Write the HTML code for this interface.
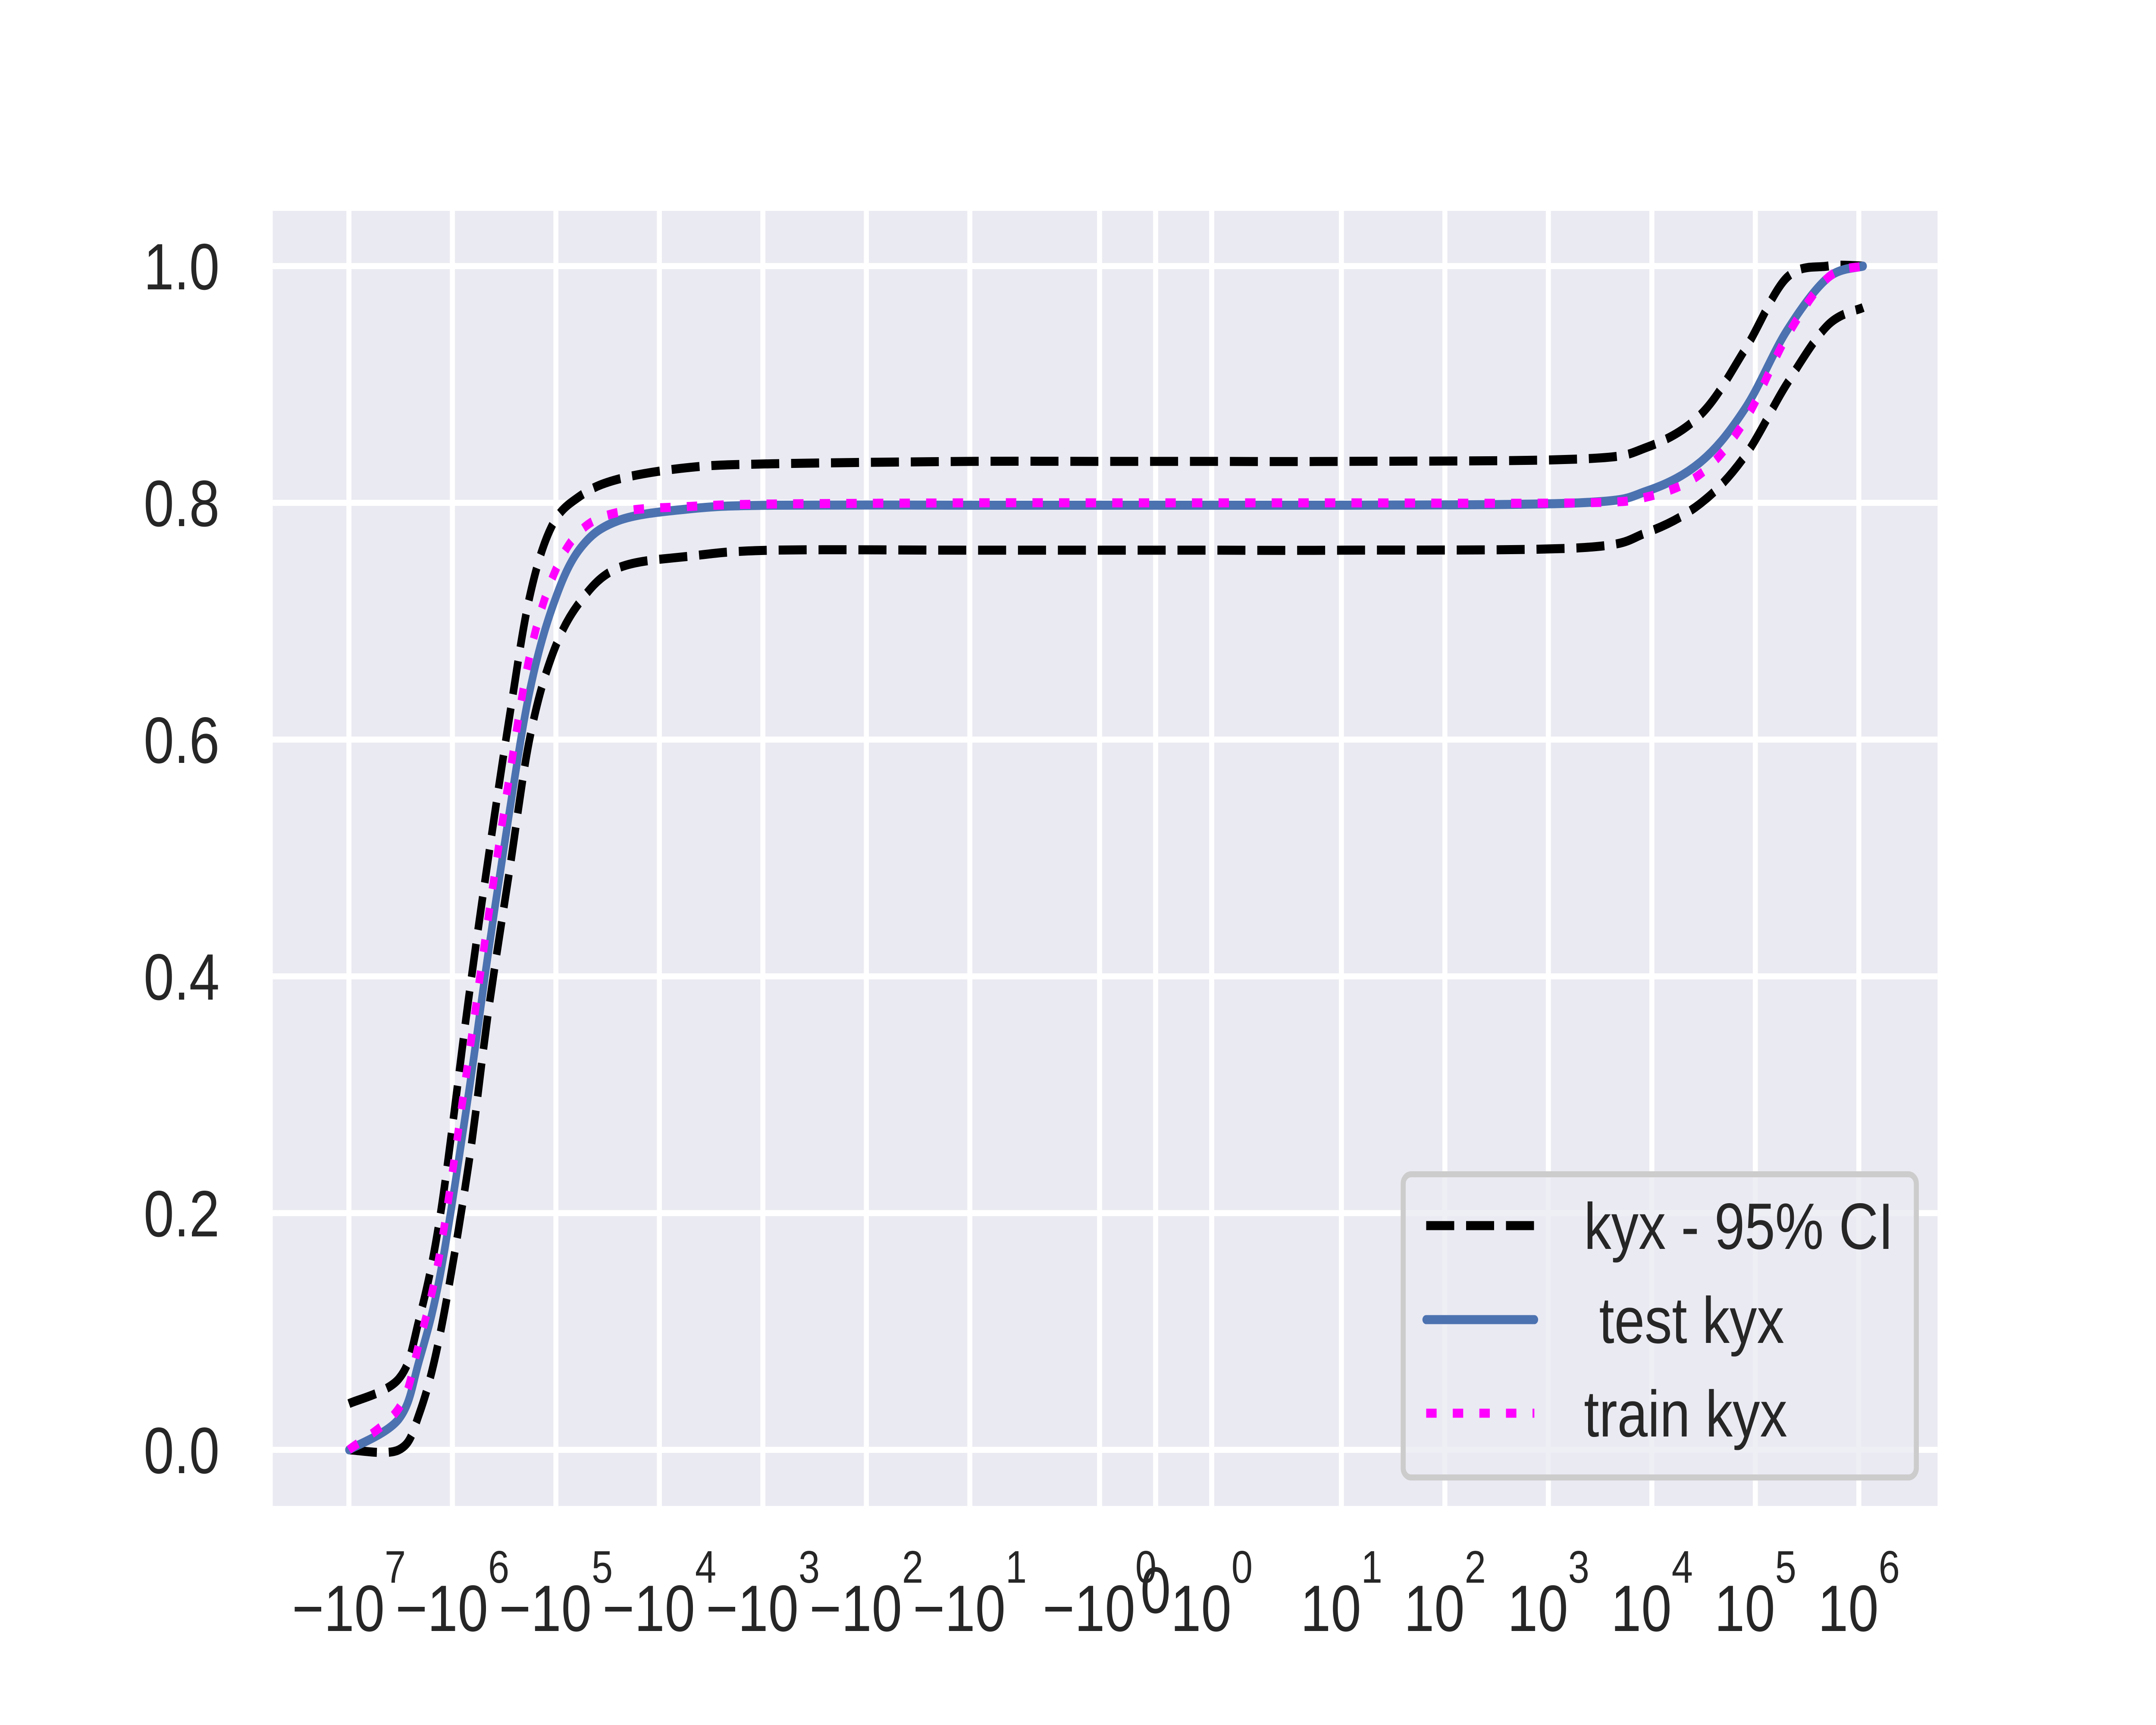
<!DOCTYPE html>
<html><head><meta charset="utf-8"><style>
html,body{margin:0;padding:0;background:#fff;width:100vw;height:100vh;overflow:hidden;}
svg{display:block;width:100vw;height:100vh;font-family:"Liberation Sans",Arial,sans-serif;}
</style></head><body>
<svg id="chart" viewBox="0 0 6000 4000" preserveAspectRatio="none" xmlns="http://www.w3.org/2000/svg">
<rect x="0" y="0" width="6000" height="4000" fill="#ffffff"/>
<rect x="759" y="489" width="4633" height="3003" fill="#eaeaf2"/>
<g id="grid"></g>
<g id="series"></g>
<g id="yticks"></g>
<g id="xticks"></g>
<g>
  <rect x="3905" y="2723" width="1428" height="703" rx="22" fill="#eaeaf2" fill-opacity="0.8" stroke="#cccccc" stroke-width="14"/>
  <g>
    <line x1="3969" y1="2842" x2="4270" y2="2842" stroke="#000" stroke-width="21" stroke-dasharray="78 33"/>
    <text x="4408" y="2896" font-size="152" fill="#262626">kyx - 95% CI</text>
  </g>
  <g>
    <line x1="3969" y1="3060" x2="4270" y2="3060" stroke="#4c72b0" stroke-width="21" stroke-linecap="round"/>
    <text x="4408" y="3114" font-size="152" fill="#262626" xml:space="preserve"> test kyx</text>
  </g>
  <g>
    <line x1="3969" y1="3277" x2="4270" y2="3277" stroke="#ff00ff" stroke-width="21" stroke-dasharray="29 45"/>
    <text x="4408" y="3331" font-size="152" fill="#262626">train kyx</text>
  </g>
</g>
</svg>
<script>
const xValues = [-1e7,-3.3e6,-2.1e6,-1.3e6,-7e5,-4.5e5,-2.8e5,-1.8e5,-1.1e5,-6e4,-2.5e4,-5e3,-800,-10,-1,0,1,10,2000,9000,3e4,8e4,2e5,5e5,1.1e6];
const testY  = [0,0.026,0.075,0.15,0.3,0.42,0.54,0.64,0.71,0.76,0.785,0.795,0.798,0.798,0.798,0.798,0.798,0.798,0.8,0.81,0.835,0.88,0.945,0.99,1.0];
const trainY = [0,0.035,0.09,0.17,0.33,0.45,0.57,0.67,0.735,0.775,0.792,0.797,0.799,0.8,0.8,0.8,0.8,0.8,0.8,0.805,0.825,0.87,0.94,0.99,1.0];
const upperY = [0.039,0.06,0.11,0.2,0.38,0.5,0.62,0.72,0.78,0.805,0.82,0.83,0.833,0.835,0.835,0.835,0.835,0.835,0.837,0.847,0.875,0.93,0.99,1.0,1.0];
const lowerY = [0,0,0.03,0.1,0.24,0.37,0.49,0.6,0.67,0.715,0.745,0.755,0.76,0.76,0.76,0.76,0.76,0.76,0.762,0.775,0.8,0.84,0.9,0.95,0.965];
const xTickExps = [7,6,5,4,3,2,1,0];
const xTickPosExps = [0,1,2,3,4,5,6];
const yTicks = [0,0.2,0.4,0.6,0.8,1.0];
const yTickLabels = ["0.0","0.2","0.4","0.6","0.8","1.0"];

const NS="http://www.w3.org/2000/svg";
const X0=3216;
function xs(v){const a=Math.abs(v),s=Math.sign(v);let d;
  if(a<1)d=156*a;else if(a<10)d=156+361*Math.log10(a);else d=517+288*(Math.log10(a)-1);
  return X0+s*d;}
function ys(v){return 3362-(v)*2745;}
function mk(tag,attrs,parent){const e=document.createElementNS(NS,tag);for(const k in attrs)e.setAttribute(k,attrs[k]);parent.appendChild(e);return e;}

const grid=document.getElementById('grid');
yTicks.forEach(t=>{const l=mk('line',{x1:759,x2:5392,y1:ys(t),y2:ys(t),stroke:'#fff','stroke-width':14},grid);
  
  });
const allX=[];xTickExps.forEach(e=>allX.push(-Math.pow(10,e)));allX.push(0);xTickPosExps.forEach(e=>allX.push(Math.pow(10,e)));
allX.forEach(v=>{const l=mk('line',{x1:xs(v),x2:xs(v),y1:489,y2:3492,stroke:'#fff','stroke-width':14},grid);
  
  });

const series=document.getElementById('series');
function path(ys_,stroke,dash,name,cap){
  const P=xValues.map((v,i)=>[xs(v),ys(ys_[i])]);
  let d='M'+P[0][0].toFixed(1)+','+P[0][1].toFixed(1);
  for(let i=0;i<P.length-1;i++){
    const p0=P[Math.max(0,i-1)],p1=P[i],p2=P[i+1],p3=P[Math.min(P.length-1,i+2)];
    const c1=[p1[0]+(p2[0]-p0[0])/6,p1[1]+(p2[1]-p0[1])/6];
    const c2=[p2[0]-(p3[0]-p1[0])/6,p2[1]-(p3[1]-p1[1])/6];
    d+=' C'+c1[0].toFixed(1)+','+c1[1].toFixed(1)+' '+c2[0].toFixed(1)+','+c2[1].toFixed(1)+' '+p2[0].toFixed(1)+','+p2[1].toFixed(1);
  }
  const p=mk('path',{d:d,fill:'none',stroke:stroke,'stroke-width':21,'stroke-linejoin':'round'},series);
  if(dash)p.setAttribute('stroke-dasharray',dash);
  if(cap)p.setAttribute('stroke-linecap',cap);
  
  }
path(upperY,'#000','78 33','ci-upper-line');
path(lowerY,'#000','78 33','ci-lower-line');
path(testY,'#4c72b0',null,'test-kyx-line','round');
path(trainY,'#ff00ff','29 45','train-kyx-line');

const yt=document.getElementById('yticks');
yTicks.forEach((t,i)=>{const e=mk('text',{x:611,y:ys(t)+54,'font-size':152,fill:'#262626','text-anchor':'end'},yt);e.textContent=yTickLabels[i];
  
  });

const xt=document.getElementById('xticks');
function xlabel(v,neg,exp){
  const g=mk('text',{x:xs(v),y:3782,'font-size':152,fill:'#262626','text-anchor':'middle'},xt);
  
  
  const a=document.createElementNS(NS,'tspan');a.textContent=(neg?'\u221210':'10');g.appendChild(a);
  const b=document.createElementNS(NS,'tspan');b.setAttribute('font-size','106');b.setAttribute('dy','-112');b.textContent=String(exp);g.appendChild(b);}
xTickExps.forEach(e=>xlabel(-Math.pow(10,e),true,e));
xTickPosExps.forEach(e=>xlabel(Math.pow(10,e),false,e));
const z=mk('text',{x:xs(0),y:3740,'font-size':152,fill:'#262626','text-anchor':'middle'},xt);z.textContent='0';


</script>
</body></html>
